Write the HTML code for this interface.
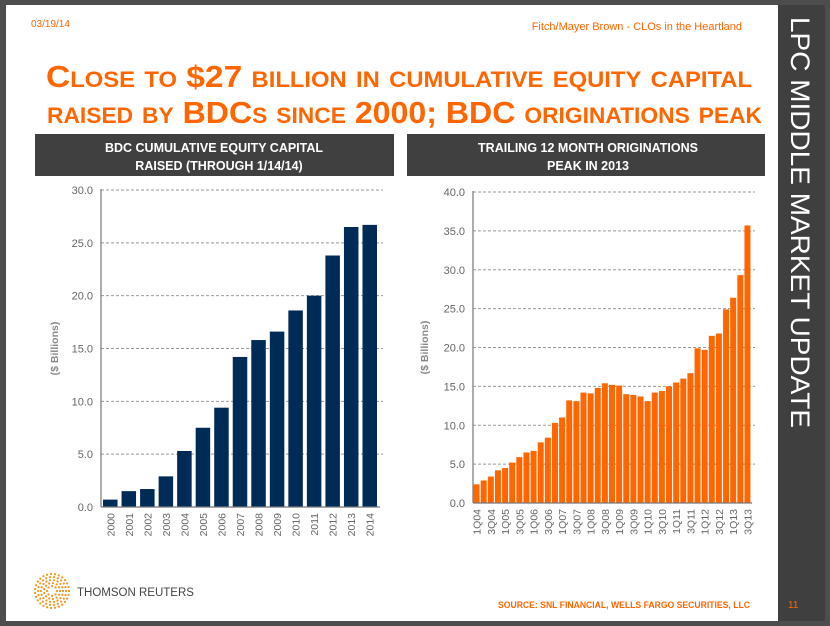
<!DOCTYPE html>
<html><head><meta charset="utf-8"><style>
html,body{margin:0;padding:0;background:#4d4d4d;}
svg{display:block;font-family:"Liberation Sans",sans-serif;}
</style></head><body>
<svg id="s" width="830" height="626" viewBox="0 0 830 626" xmlns="http://www.w3.org/2000/svg">
<rect x="0" y="0" width="830" height="626" fill="#4d4d4d"/>
<rect x="6" y="5" width="772" height="616" fill="#ffffff"/>
<rect x="778" y="5" width="47" height="616" fill="#3f3f3f"/>
<text transform="translate(791,17) rotate(90)" font-size="27" fill="#ffffff" textLength="411" lengthAdjust="spacingAndGlyphs">LPC MIDDLE MARKET UPDATE</text>
<text x="31" y="27" font-size="10" fill="#ff6600">03/19/14</text>
<text x="742" y="30" font-size="11" fill="#ff6600" text-anchor="end">Fitch/Mayer Brown - CLOs in the Heartland</text>
<text x="46" y="87" font-size="31" font-weight="bold" fill="#ff6600" style="font-variant:small-caps" textLength="706" lengthAdjust="spacingAndGlyphs">Close to $27 billion in cumulative equity capital</text>
<text x="47" y="123" font-size="31" font-weight="bold" fill="#ff6600" style="font-variant:small-caps" textLength="715" lengthAdjust="spacingAndGlyphs">raised by BDCs since 2000; BDC originations peak</text>
<rect x="35" y="134" width="359" height="42" fill="#404040"/>
<text x="214" y="152" font-size="12.5" font-weight="bold" fill="#fff" text-anchor="middle">BDC CUMULATIVE EQUITY CAPITAL</text>
<text x="219" y="170" font-size="12.5" font-weight="bold" fill="#fff" text-anchor="middle">RAISED (THROUGH 1/14/14)</text>
<rect x="407" y="134" width="358" height="42" fill="#404040"/>
<text x="588" y="152" font-size="12.5" font-weight="bold" fill="#fff" text-anchor="middle">TRAILING 12 MONTH ORIGINATIONS</text>
<text x="588" y="170" font-size="12.5" font-weight="bold" fill="#fff" text-anchor="middle">PEAK IN 2013</text>
<g id="left"></g>
<g id="right"></g>
<g>
<g id="logo"></g>
<text x="77" y="596" font-size="11.5" fill="#444">THOMSON REUTERS</text>
</g>
<text x="750" y="608" font-size="9" font-weight="bold" fill="#ff6600" text-anchor="end" textLength="252" lengthAdjust="spacingAndGlyphs">SOURCE: SNL FINANCIAL, WELLS FARGO SECURITIES, LLC</text>
<text x="788" y="608" font-size="10" fill="#ff6600">11</text>
</svg>
<script>
const leftCats=["2000","2001","2002","2003","2004","2005","2006","2007","2008","2009","2010","2011","2012","2013","2014"];
const leftVals=[0.7,1.5,1.7,2.9,5.3,7.5,9.4,14.2,15.8,16.6,18.6,20.0,23.8,26.5,26.7];
const leftTicks=[0,5,10,15,20,25,30];
const rightCats=["1Q04","2Q04","3Q04","4Q04","1Q05","2Q05","3Q05","4Q05","1Q06","2Q06","3Q06","4Q06","1Q07","2Q07","3Q07","4Q07","1Q08","2Q08","3Q08","4Q08","1Q09","2Q09","3Q09","4Q09","1Q10","2Q10","3Q10","4Q10","1Q11","2Q11","3Q11","4Q11","1Q12","2Q12","3Q12","4Q12","1Q13","2Q13","3Q13"];
const rightVals=[2.4,2.9,3.4,4.2,4.5,5.2,5.9,6.5,6.7,7.8,8.4,10.3,11.0,13.2,13.1,14.2,14.1,14.8,15.4,15.2,15.1,14.0,13.9,13.7,13.1,14.2,14.4,15.0,15.5,16.0,16.7,19.9,19.7,21.5,21.8,24.9,26.4,29.3,35.7];
const rightTicks=[0,5,10,15,20,25,30,35,40];
const NS="http://www.w3.org/2000/svg";
function mk(p,t,a){const e=document.createElementNS(NS,t);for(const k in a)e.setAttribute(k,a[k]);p.appendChild(e);return e;}
function chart(g,cats,vals,ticks,o){
  const x0=o.x0,x1=o.x1,y0=o.y0,y1=o.y1,max=ticks[ticks.length-1];
  const ys=v=>y0-(v/max)*(y0-y1);
  const step=(x1-x0)/cats.length;
  ticks.forEach(t=>{
    if(t>0){const l=mk(g,'line',{x1:x0,x2:x1+4,y1:ys(t),y2:ys(t),stroke:'#999','stroke-dasharray':'3,2','stroke-width':1});
    
    }
    const tx=mk(g,'text',{x:x0-8,y:ys(t)+4,'font-size':11,fill:'#666','text-anchor':'end'});
    tx.textContent=t.toFixed(1);
    
    
  });
  vals.forEach((v,i)=>{
    const r=mk(g,'rect',{x:x0+i*step+(step-o.bw)/2,y:ys(v),width:o.bw,height:y0-ys(v),fill:o.color});
    
    
    if(i%o.every===0){
      const cx=x0+i*step+step/2+4, cy=y0+6;
      const t=mk(g,'text',{transform:`translate(${cx},${cy}) rotate(-90)`,'font-size':10.5,fill:'#666','text-anchor':'end'});
      t.textContent=cats[i];
      
      
    }
  });
  const ax=mk(g,'line',{x1:x0,x2:x0,y1:y1-1,y2:y0,stroke:'#777','stroke-width':1.2});
  
  
  const bx=mk(g,'line',{x1:x0,x2:x1+1,y1:y0,y2:y0,stroke:'#777','stroke-width':1.2});
  
  
  const tl=mk(g,'text',{transform:`translate(${o.tx},${(y0+y1)/2}) rotate(-90)`,'font-size':10.5,'font-weight':'bold',fill:'#888','text-anchor':'middle'});
  tl.textContent='($ Billions)';
  
  
}
chart(document.getElementById('left'),leftCats,leftVals,leftTicks,{x0:101,x1:379,y0:507,y1:190,bw:14.5,color:'#002b56',every:1,tx:58});
chart(document.getElementById('right'),rightCats,rightVals,rightTicks,{x0:473,x1:751,y0:503,y1:192,bw:6,color:'#ff6600',every:2,tx:428});
// logo dots
const lg=document.getElementById('logo');
for(let r=5;r<=17;r+=3){const n=Math.round(r*1.6);for(let k=0;k<n;k++){const a=k/n*Math.PI*2;
  const c=mk(lg,'circle',{cx:52+r*Math.cos(a),cy:591+r*Math.sin(a),r:1.1,fill:'#f7941d'});
  
  }}
</script>
</body></html>
